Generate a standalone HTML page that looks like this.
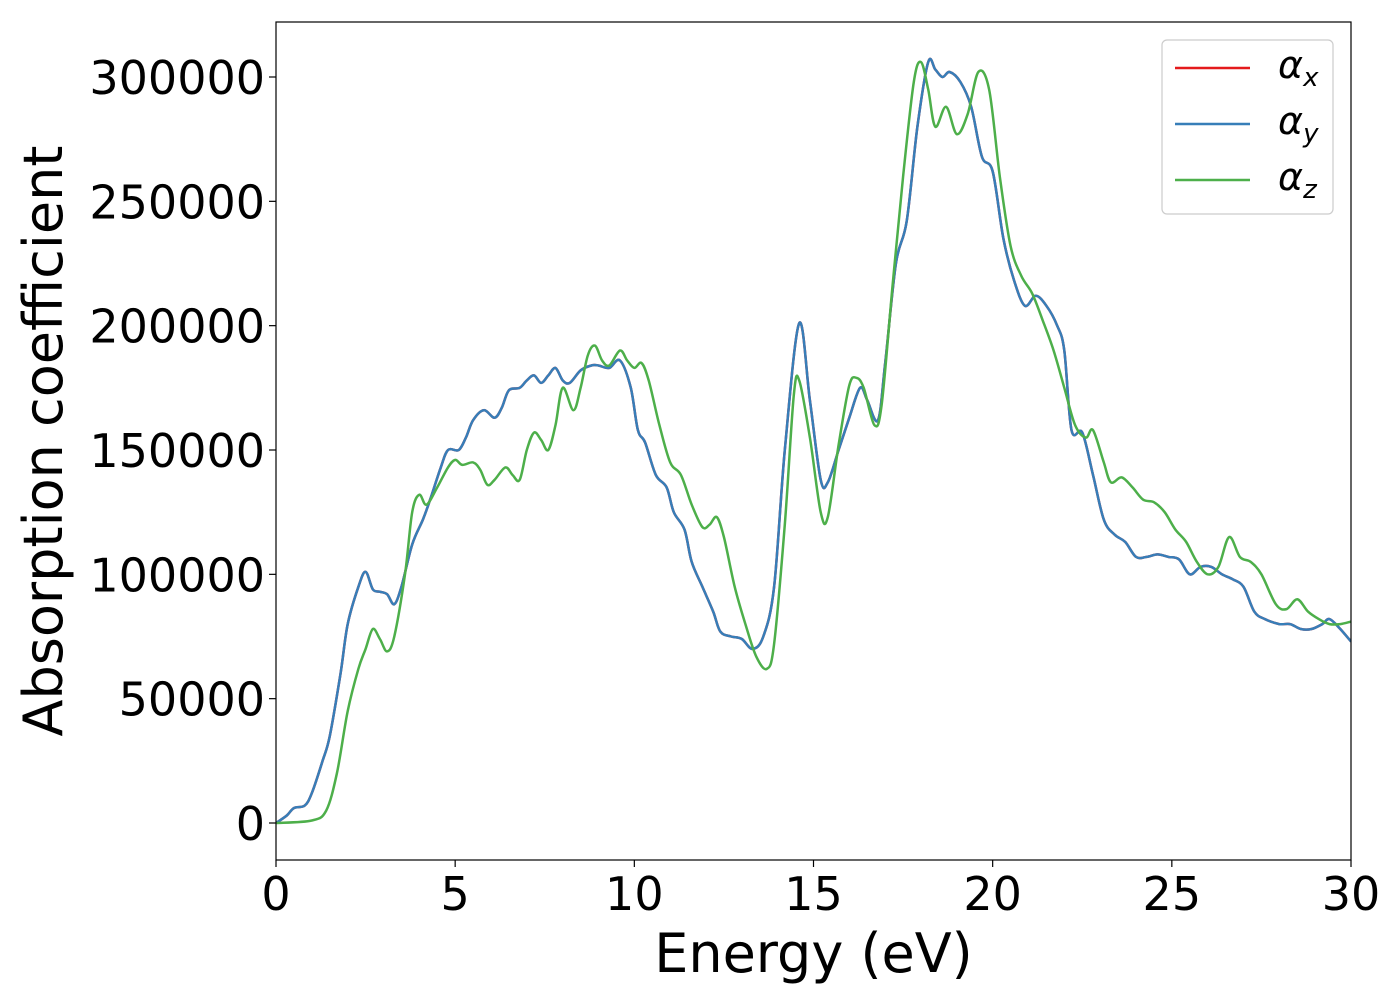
<!DOCTYPE html>
<html><head><meta charset="utf-8"><style>
html,body{margin:0;padding:0;background:#fff}
svg text{font-family:"DejaVu Sans","Liberation Sans",sans-serif;fill:#000}
</style></head><body>
<svg width="1400" height="1000" viewBox="0 0 1400 1000" xmlns="http://www.w3.org/2000/svg">
<rect x="0" y="0" width="1400" height="1000" fill="#fff"/>
<g id="plot"></g>
<g id="axes"></g>
</svg>
<script>
const xTicks=[0,5,10,15,20,25,30];
const yTicks=[0,50000,100000,150000,200000,250000,300000];
const seriesNames=["α_x","α_y","α_z"];
const blueE=[0,0.3,0.5,0.8,1.0,1.3,1.5,1.8,2.0,2.3,2.5,2.7,2.9,3.1,3.3,3.5,3.8,4.1,4.3,4.6,4.8,5.1,5.3,5.5,5.8,6.1,6.3,6.5,6.8,7.0,7.2,7.4,7.6,7.8,8.0,8.2,8.5,8.8,9.0,9.3,9.6,9.9,10.1,10.3,10.6,10.9,11.1,11.4,11.6,11.9,12.2,12.4,12.7,13.0,13.3,13.6,13.9,14.2,14.6,14.9,15.2,15.4,15.7,16.0,16.3,16.5,16.8,17.0,17.3,17.6,17.9,18.2,18.4,18.6,18.8,19.1,19.4,19.7,20.0,20.3,20.6,20.9,21.2,21.5,21.8,22.0,22.2,22.5,22.8,23.1,23.4,23.7,24.0,24.3,24.6,24.9,25.2,25.5,25.8,26.1,26.4,26.7,27.0,27.3,27.6,28.0,28.3,28.6,28.9,29.2,29.4,29.7,30];
const blueV=[0,3000,6000,7000,12000,25000,35000,60000,80000,95000,101000,94000,93000,92000,88000,95000,112000,122000,130000,143000,150000,150000,155000,162000,166000,163000,167000,174000,175000,178000,180000,177000,180000,183000,178000,177000,182000,184000,184000,183000,186000,175000,158000,153000,140000,135000,125000,118000,105000,95000,85000,77000,75000,74000,70000,75000,95000,150000,201000,170000,138000,137000,150000,163000,175000,170000,162000,185000,225000,242000,280000,306000,303000,300000,302000,298000,288000,268000,262000,235000,218000,208000,212000,208000,200000,190000,158000,157000,140000,122000,116000,113000,107000,107000,108000,107000,106000,100000,103000,103000,100000,98000,95000,85000,82000,80000,80000,78000,78000,80000,82000,78000,73000];
const greenE=[0,1.0,1.4,1.7,2.0,2.3,2.5,2.7,2.9,3.1,3.3,3.6,3.8,4.0,4.2,4.5,4.8,5.0,5.2,5.5,5.7,5.9,6.1,6.4,6.6,6.8,7.0,7.2,7.4,7.6,7.8,8.0,8.3,8.5,8.7,8.9,9.1,9.3,9.6,9.8,10.0,10.2,10.4,10.7,11.0,11.3,11.6,11.9,12.1,12.3,12.5,12.8,13.1,13.4,13.7,13.9,14.2,14.45,14.6,14.9,15.2,15.4,15.7,16.0,16.2,16.4,16.7,16.9,17.2,17.5,17.8,18.0,18.2,18.4,18.7,19.0,19.3,19.6,19.9,20.2,20.5,20.8,21.1,21.4,21.7,22.0,22.3,22.6,22.8,23.1,23.3,23.6,23.9,24.2,24.5,24.8,25.1,25.4,25.7,26.0,26.3,26.6,26.9,27.2,27.5,27.9,28.2,28.5,28.8,29.1,29.4,29.7,30];
const greenV=[0,1000,5000,20000,45000,62000,70000,78000,74000,69000,75000,100000,125000,132000,128000,135000,143000,146000,144000,145000,142000,136000,138000,143000,140000,138000,150000,157000,154000,150000,160000,175000,166000,175000,188000,192000,186000,184000,190000,186000,183000,185000,178000,160000,145000,140000,128000,119000,120000,123000,115000,95000,80000,67000,62000,72000,120000,172000,178000,155000,125000,123000,152000,176000,179000,175000,160000,168000,215000,260000,298000,306000,295000,280000,288000,277000,285000,302000,295000,260000,232000,220000,213000,202000,190000,175000,160000,155000,158000,145000,137000,139000,135000,130000,129000,125000,118000,113000,105000,100000,103000,115000,107000,105000,100000,88000,86000,90000,85000,82000,80000,80000,81000];

const X0=276,X1=1351,YT=22,YB=860;
const sx=e=>X0+(e-0)*(X1-X0)/30;
const sy=v=>823-v*(823-77)/300000;
const NS="http://www.w3.org/2000/svg";
function mk(t,a){const el=document.createElementNS(NS,t);for(const k in a)el.setAttribute(k,a[k]);return el;}
function pathFrom(E,V){
  const p=E.map((e,i)=>[sx(e),sy(V[i])]);
  let d="M"+p[0][0].toFixed(1)+","+p[0][1].toFixed(1);
  for(let i=0;i<p.length-1;i++){
    const a=p[Math.max(i-1,0)],b=p[i],c=p[i+1],n=p[Math.min(i+2,p.length-1)];
    const c1=[b[0]+(c[0]-a[0])/6,b[1]+(c[1]-a[1])/6],c2=[c[0]-(n[0]-b[0])/6,c[1]-(n[1]-b[1])/6];
    d+="C"+c1.map(v=>v.toFixed(1))+" "+c2.map(v=>v.toFixed(1))+" "+c[0].toFixed(1)+","+c[1].toFixed(1);
  }
  return d;
}
const plot=document.getElementById('plot'),axes=document.getElementById('axes');
const defs=mk('clipPath',{id:'clip'});defs.appendChild(mk('rect',{x:X0,y:YT,width:X1-X0,height:YB-YT}));plot.appendChild(defs);
const lines=[["line-alpha-x","#e41a1c",blueE,blueV],["line-alpha-y","#377eb8",blueE,blueV],["line-alpha-z","#4daf4a",greenE,greenV]];
lines.forEach(l=>{
  const el=mk('path',{d:pathFrom(l[2],l[3]),fill:'none',stroke:l[1],'stroke-width':2.5,'clip-path':'url(#clip)'});
  
  
  plot.appendChild(el);
});
const frame=mk('rect',{x:X0,y:YT,width:X1-X0,height:YB-YT,fill:'none',stroke:'#000','stroke-width':1.2});


axes.appendChild(frame);
xTicks.forEach(t=>{
  axes.appendChild(mk('line',{x1:sx(t),x2:sx(t),y1:YB,y2:YB+7,stroke:'#000','stroke-width':1.2}));
  const tx=mk('text',{x:sx(t),y:YB+50,'font-size':46,'text-anchor':'middle'});tx.textContent=t;
  
  
  axes.appendChild(tx);
});
yTicks.forEach(t=>{
  axes.appendChild(mk('line',{x1:X0-7,x2:X0,y1:sy(t),y2:sy(t),stroke:'#000','stroke-width':1.2}));
  const tx=mk('text',{x:X0-11,y:sy(t)+17,'font-size':46,'text-anchor':'end'});tx.textContent=t;
  
  
  axes.appendChild(tx);
});
const xl=mk('text',{x:(X0+X1)/2,y:972,'font-size':54,'text-anchor':'middle'});xl.textContent="Energy (eV)";


axes.appendChild(xl);
const yl=mk('text',{x:0,y:0,'font-size':54,'text-anchor':'middle',transform:'translate(62,441) rotate(-90)'});yl.textContent="Absorption coefficient";


axes.appendChild(yl);
const lg=mk('g',{});


lg.appendChild(mk('rect',{x:1162,y:40,width:171,height:174,rx:5,fill:'#fff',stroke:'#ccc','stroke-width':1.2}));
const subs=["x","y","z"];
lines.forEach((l,i)=>{
  const y=68+i*56;
  const g=mk('g',{});
  
  
  g.appendChild(mk('line',{x1:1175,x2:1250,y1:y,y2:y,stroke:l[1],'stroke-width':2.5}));
  const t=mk('text',{x:1278,y:y+10,'font-size':38,'font-style':'italic'});
  t.textContent="α";
  const s=mk('tspan',{'font-size':26,dy:8});s.textContent=subs[i];t.appendChild(s);
  g.appendChild(t);lg.appendChild(g);
});
axes.appendChild(lg);
</script>
</body></html>
